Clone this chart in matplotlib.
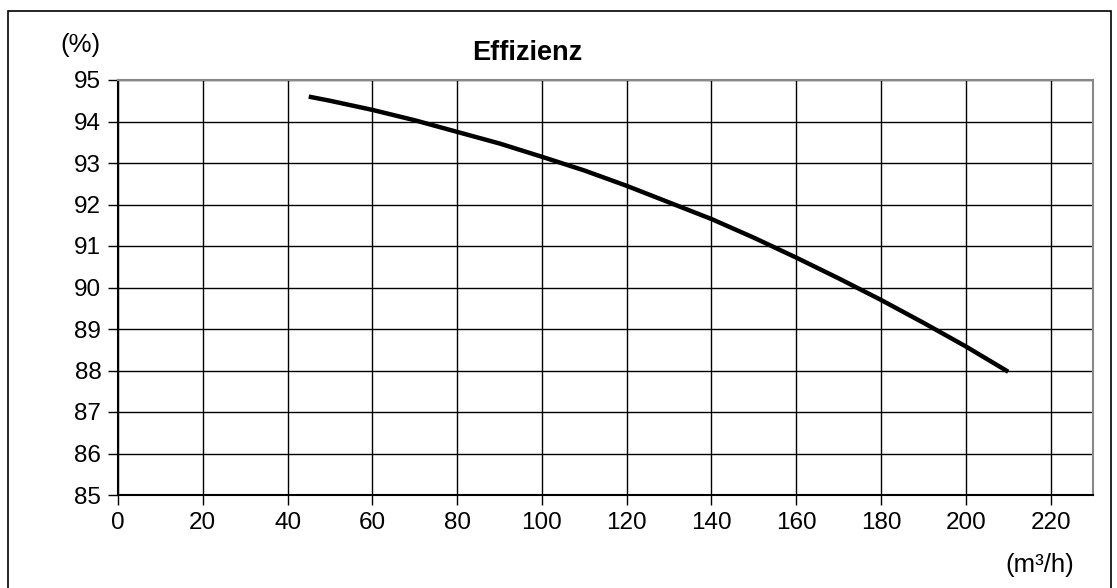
import matplotlib.pyplot as plt
from matplotlib.patches import Rectangle

plt.rcParams['font.family'] = ['Liberation Sans', 'DejaVu Sans']

# Volumenstrom (m3/h) und Effizienz (%)
flow = [45, 50, 60, 70, 80, 90, 100, 110, 120, 130, 140, 150, 160, 170, 180, 190, 200, 210]
eff = [94.6, 94.5, 94.28, 94.03, 93.75, 93.47, 93.15, 92.82, 92.45, 92.05, 91.65, 91.2, 90.72, 90.22, 89.7, 89.15, 88.58, 87.97]

xticks = list(range(0, 221, 20))
yticks = list(range(85, 96))

fig = plt.figure(figsize=(11.17, 5.88), dpi=100)
ax = fig.add_axes([118 / 1117, 1 - 495 / 588, (1093 - 118) / 1117, (495 - 80) / 588])

ax.plot(flow, eff, color='black', lw=3.2, solid_capstyle='butt')

ax.set_xlim(0, 230)
ax.set_ylim(85, 95)
ax.set_xticks(xticks)
ax.set_yticks(yticks)
ax.grid(True, color='black', lw=1)
ax.tick_params(direction='out', length=7, width=1, labelsize=17.5, colors='black', pad=5)
for s in ['top', 'right']:
    ax.spines[s].set_color('#888888')
    ax.spines[s].set_linewidth(1.5)
for s in ['left', 'bottom']:
    ax.spines[s].set_linewidth(1.5)

fig.text(527 / 1117, 1 - 53 / 588, 'Effizienz', ha='center', va='center', fontsize=19.5, fontweight='bold')
fig.text(80 / 1117, 1 - 45 / 588, '(%)', ha='center', va='center', fontsize=18.5)
fig.text(1040 / 1117, 1 - 565 / 588, '(m³/h)', ha='center', va='center', fontsize=18.5)

# outer frame
fig.patches.append(Rectangle((8 / 1117, -0.01), 1103 / 1117, 1 - 11 / 588 + 0.01, transform=fig.transFigure,
                             fill=False, edgecolor='black', lw=1.2))

fig.savefig('out.png', dpi=100)
